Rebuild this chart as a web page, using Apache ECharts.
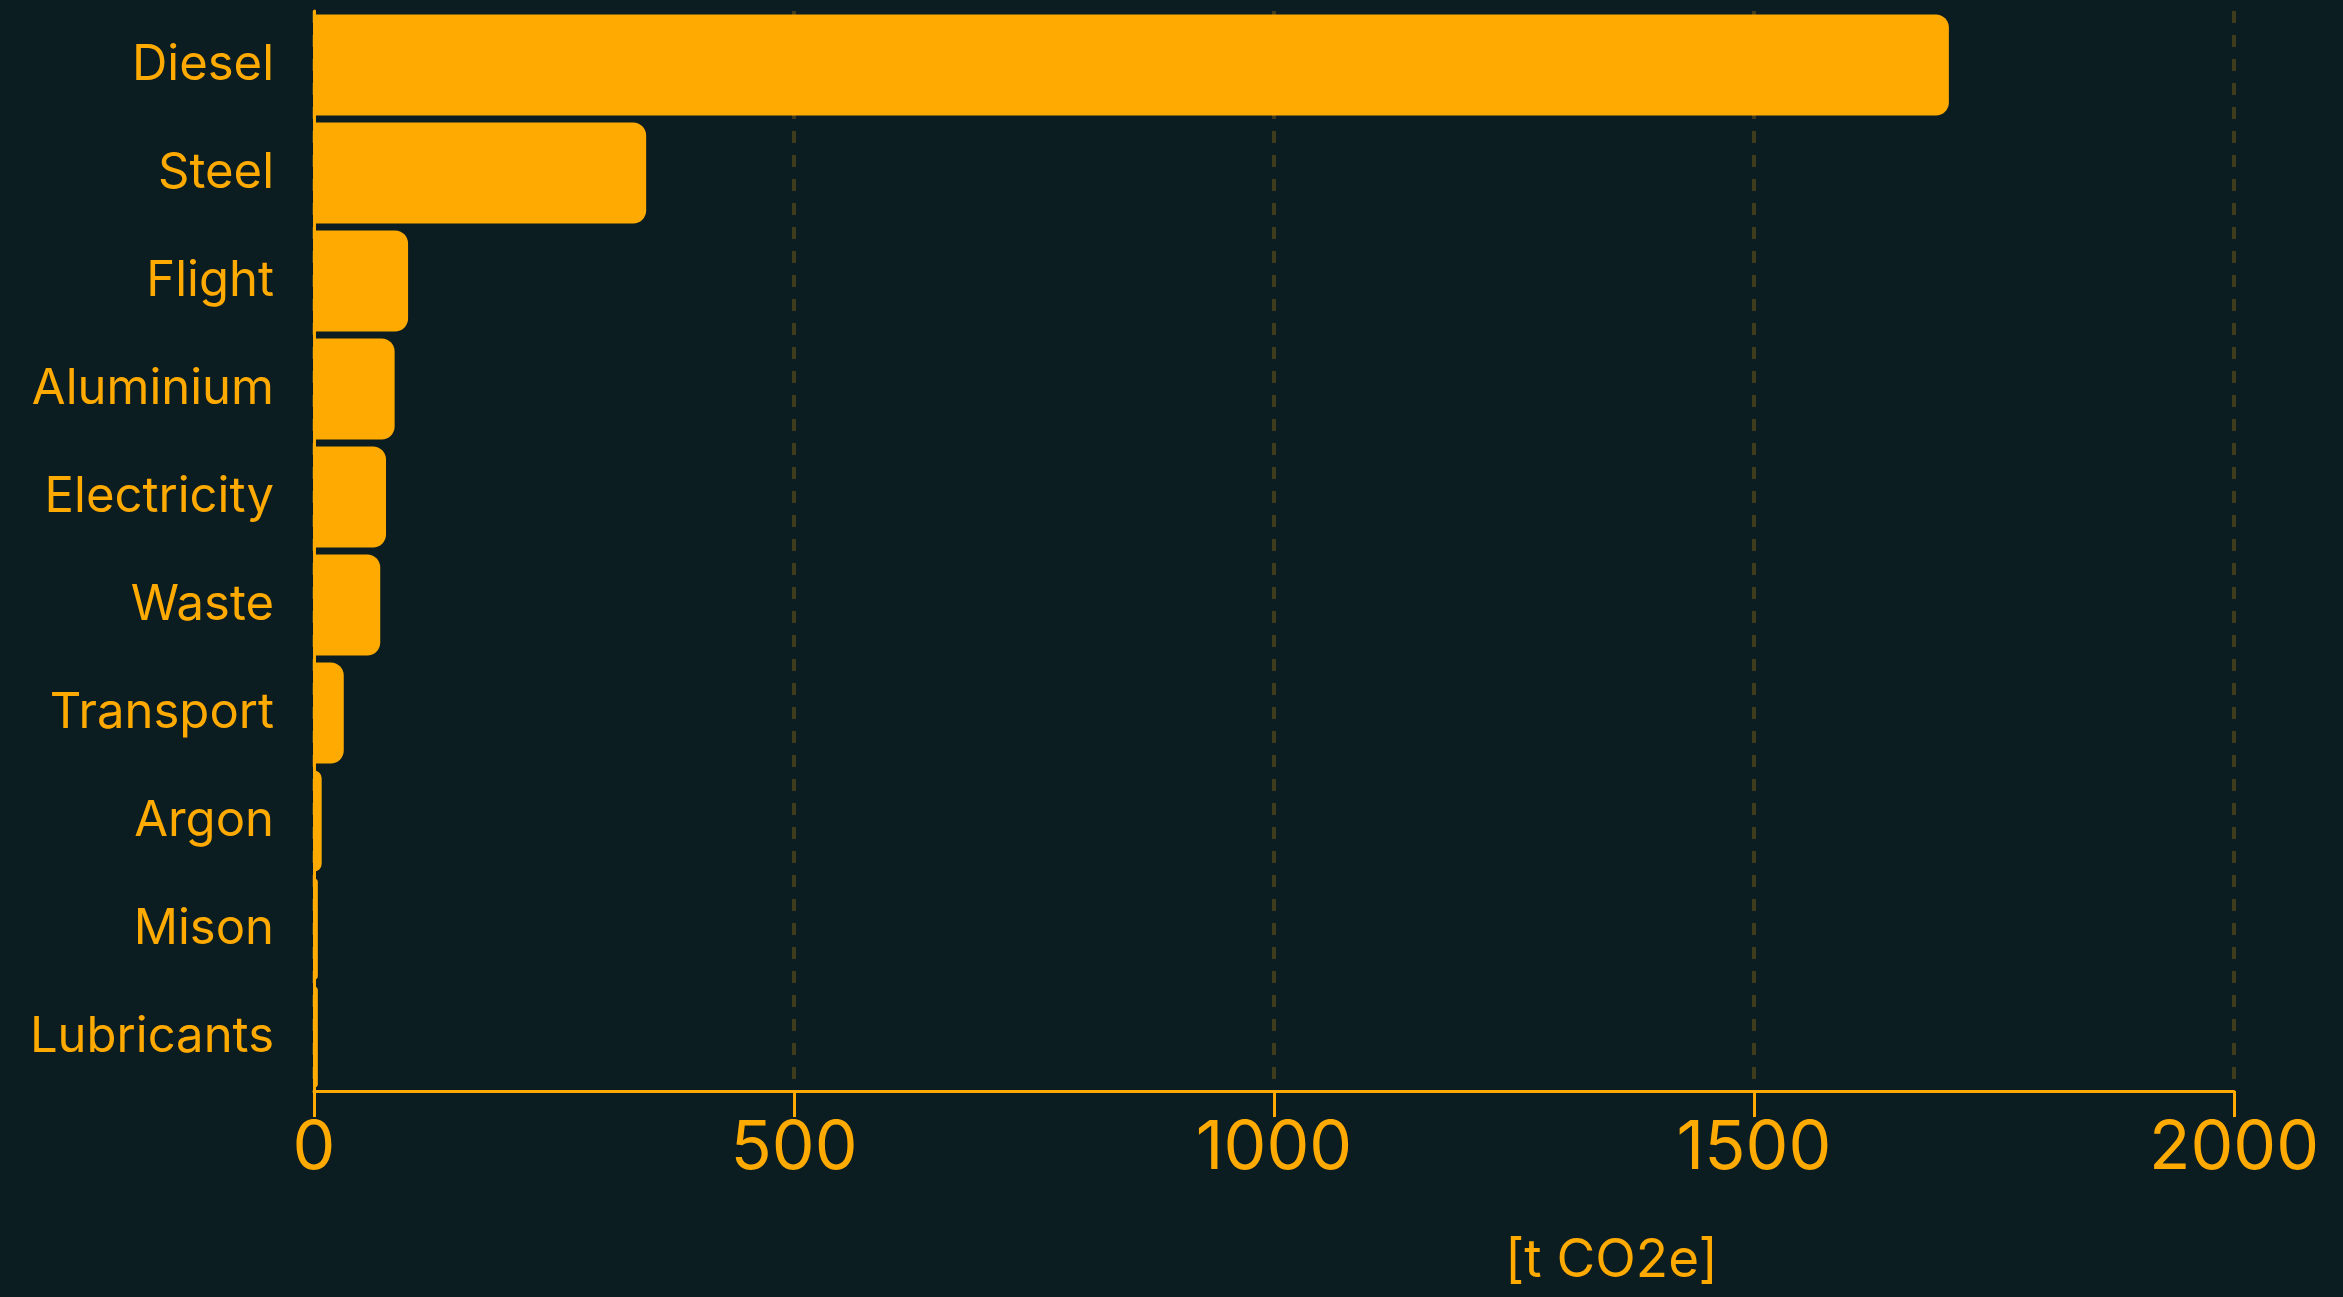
<!DOCTYPE html>
<html>
<head>
<meta charset="utf-8">
<script src="https://cdn.jsdelivr.net/npm/echarts@6/dist/echarts.min.js"></script>
<style>
html,body{margin:0;padding:0;background:#0b1d21;}
#chart{width:2343px;height:1297px;}
</style>
</head>
<body>
<div id="chart"></div>
<script>
const categories = ['Diesel','Steel','Flight','Aluminium','Electricity','Waste','Transport','Argon','Mison','Lubricants'];
const values = [1703, 346, 98, 84, 75, 69, 31, 8, 4, 4];
const xTicks = [0, 500, 1000, 1500, 2000];
const unitLabel = '[t CO2e]';

const ORANGE = '#ffaa00';
const FONT = 'Inter';
const chart = echarts.init(document.getElementById('chart'));
chart.setOption({
  backgroundColor: '#0b1d21',
  animation: false,
  title: {
    text: unitLabel,
    left: 1500,
    top: 1230,
    textStyle: {color: ORANGE, fontSize: 53, fontWeight: 'normal', fontFamily: FONT}
  },
  grid: {left: 314, right: 109, top: 11, bottom: 206, containLabel: false},
  xAxis: {
    type: 'value',
    min: xTicks[0],
    max: xTicks[xTicks.length - 1],
    interval: 500,
    axisLine: {show: true, lineStyle: {color: ORANGE, width: 3}},
    axisTick: {show: true, length: 26, lineStyle: {color: ORANGE, width: 3}},
    axisLabel: {color: ORANGE, fontSize: 68, fontFamily: FONT, margin: 24, formatter: v => String(v)},
    splitLine: {show: true, lineStyle: {color: '#3f3c1e', width: 4, type: [12, 12]}}
  },
  yAxis: {
    type: 'category',
    inverse: true,
    data: categories,
    axisLine: {show: true, lineStyle: {color: ORANGE, width: 3}},
    axisTick: {show: false},
    axisLabel: {color: ORANGE, fontSize: 49, fontFamily: FONT, margin: 40}
  },
  series: [{
    type: 'bar',
    data: values,
    barCategoryGap: '6.5%',
    itemStyle: {color: ORANGE, borderRadius: [0, 13, 13, 0]}
  }]
});
</script>
</body>
</html>
